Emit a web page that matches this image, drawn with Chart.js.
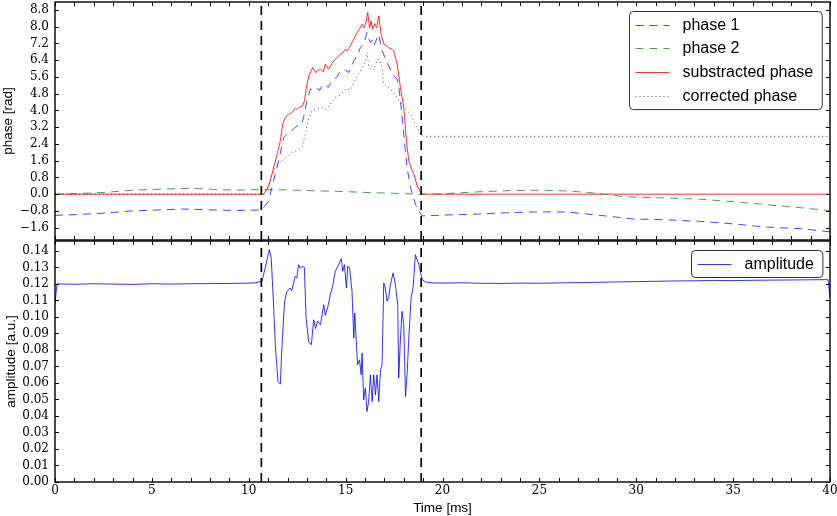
<!DOCTYPE html>
<html><head><meta charset="utf-8">
<script src="https://cdn.jsdelivr.net/npm/chart.js@4.4.0/dist/chart.umd.min.js"></script>
<style>
html,body{margin:0;padding:0;background:#fff;}
#wrap{position:relative;width:837px;height:516px;overflow:hidden;background:#fff;}
canvas{position:absolute;left:0;}
#c1{top:0}
#c2{top:236px}
</style></head><body>
<div id="wrap"><canvas id="c1" width="837" height="243"></canvas><canvas id="c2" width="837" height="280"></canvas></div>
<script>
// ---------- data ----------
const eventTimes = [10.65, 18.9];

const phase1T = [0,1,2.3,4,5.5,6.6,8,9.2,10.65,10.8,11.03,11.28,11.54,11.8,12.06,12.3,12.49,12.7,12.83,13.0,13.18,13.35,13.52,13.65,13.78,13.95,14.1,14.25,14.38,14.55,14.73,14.95,15.16,15.3,15.42,15.6,15.76,15.95,16.1,16.2,16.28,16.37,16.45,16.55,16.71,16.8,16.88,17.05,17.22,17.45,17.66,17.75,17.83,18.0,18.17,18.35,18.6,18.8,18.95,20,21.8,23,25,26.5,28,29.9,31.5,33.3,35,36.8,38.5,40];
const phase1V = [-1.01,-0.98,-0.92,-0.80,-0.75,-0.71,-0.75,-0.78,-0.76,-0.6,-0.32,0.64,1.59,2.7,2.94,3.1,3.26,3.3,3.66,4.46,5.02,5.0,5.09,4.95,5.17,5.25,5.1,5.35,5.49,5.6,5.89,5.95,5.81,6.1,6.37,6.6,7.0,7.2,7.72,7.4,7.24,7.35,7.08,7.3,7.64,7.2,6.85,6.5,6.13,5.7,5.49,5.1,4.46,2.87,1.27,0.32,-0.48,-0.85,-1.04,-1.0,-0.95,-0.9,-0.84,-0.86,-1.0,-1.19,-1.22,-1.3,-1.42,-1.58,-1.65,-1.8];

const phase2T = [0,1.5,2.5,4,5.5,7,8,9.2,10.65,12,13.5,15,16.1,17.5,18.9,20,21.8,23.5,25.2,26.5,27.5,28.5,29.5,31.5,33.3,35,36.8,38.5,40];
const phase2V = [0.0,0.04,0.08,0.19,0.24,0.28,0.24,0.19,0.22,0.2,0.16,0.12,0.08,0.04,0.0,0.02,0.11,0.17,0.19,0.15,0.08,-0.02,-0.13,-0.18,-0.24,-0.36,-0.51,-0.65,-0.79];

const subT = [0,10.77,10.9,11.03,11.2,11.4,11.63,11.75,11.89,12.05,12.23,12.4,12.5,12.6,12.75,12.88,12.96,13.1,13.3,13.44,13.57,13.7,13.85,13.95,14.12,14.3,14.47,14.6,14.73,14.85,14.99,15.1,15.25,15.42,15.59,15.72,15.85,15.95,16.05,16.14,16.24,16.32,16.4,16.5,16.6,16.71,16.83,16.97,17.1,17.22,17.35,17.48,17.66,17.83,18.0,18.14,18.26,18.4,18.52,18.69,18.85,18.95,40];
const subV = [0,0,0.18,0.4,0.96,1.67,2.55,3.34,3.66,3.8,3.9,4.11,4.05,4.15,4.17,4.46,5.02,5.65,6.05,5.81,5.9,5.97,5.85,6.21,5.97,6.25,6.45,6.55,6.69,6.75,6.93,6.85,7.1,7.41,7.72,7.9,8.12,7.95,8.2,8.68,7.96,8.28,7.88,8.15,7.95,8.52,7.64,7.17,7.1,7.0,6.95,6.85,6.21,5.09,4.14,2.55,1.59,1.2,0.96,0.40,0.12,0,0];

const corrT = [0,10.77,11.03,11.2,11.37,11.71,12.0,12.23,12.5,12.75,12.92,13.06,13.26,13.5,13.78,14.0,14.2,14.47,14.73,14.99,15.25,15.5,15.76,16.02,16.1,16.2,16.28,16.37,16.45,16.55,16.62,16.72,16.88,16.97,17.31,17.66,18.0,18.35,18.6,18.86,19.0,40];
const corrV = [0,0,0.4,0.96,1.27,1.59,1.8,1.99,2.1,2.23,2.87,3.5,3.98,4.05,4.14,4.05,4.3,4.62,4.74,5.02,4.98,5.49,5.89,6.29,6.77,6.1,5.97,6.13,5.95,6.2,6.37,6.45,6.05,5.26,5.02,4.62,4.14,3.82,3.34,2.87,2.76,2.76];

const ampT = [0,0.1,1,2,3,4,5,6,7,8,9,10,10.34,10.68,10.85,11.06,11.16,11.28,11.37,11.51,11.63,11.71,11.85,11.97,12.14,12.22,12.4,12.48,12.57,12.65,12.75,12.87,12.96,13.09,13.23,13.35,13.45,13.55,13.7,13.87,13.95,14.08,14.21,14.33,14.47,14.64,14.78,14.85,14.94,15.04,15.11,15.2,15.33,15.42,15.47,15.55,15.62,15.72,15.8,15.85,15.93,16.02,16.1,16.19,16.28,16.37,16.45,16.54,16.62,16.71,16.8,16.88,16.97,17.05,17.14,17.22,17.31,17.45,17.57,17.69,17.74,17.83,17.91,18.0,18.09,18.18,18.26,18.38,18.48,18.6,18.78,18.95,19.12,19.5,20,21,22,23,24,25,26,27,28,29,30,31,32,33,34,35,36,37,38,39,39.9,40];
const ampV = [0.108,0.1200,0.1198,0.1201,0.1199,0.1197,0.1201,0.1199,0.1201,0.1202,0.1203,0.1205,0.1207,0.1216,0.1297,0.1408,0.1357,0.1074,0.0831,0.0609,0.0593,0.0811,0.1095,0.1155,0.1175,0.1160,0.1246,0.1235,0.1317,0.1295,0.1307,0.1300,0.0993,0.0852,0.0831,0.0983,0.0930,0.0975,0.0953,0.1074,0.1010,0.1060,0.1135,0.1186,0.1277,0.1317,0.1353,0.1277,0.1317,0.1175,0.1307,0.1300,0.1155,0.0872,0.1024,0.0850,0.0710,0.0740,0.0649,0.0781,0.0498,0.0569,0.0427,0.0488,0.0649,0.0488,0.0649,0.0528,0.0649,0.0488,0.0680,0.0710,0.1206,0.1175,0.1095,0.1115,0.1195,0.1266,0.1195,0.1074,0.0629,0.0872,0.1034,0.0953,0.0518,0.0670,0.0872,0.1115,0.1175,0.1377,0.1317,0.1226,0.1212,0.1206,0.1205,0.1207,0.1204,0.1203,0.1205,0.1204,0.1206,0.1208,0.1210,0.1212,0.1214,0.1216,0.1218,0.1219,0.1221,0.1220,0.1222,0.1223,0.1224,0.1225,0.1226,0.112];

// ticks
const xLabelTicks = [0,5,10,15,20,25,30,35,40];
const xMinorTicks = [0,1,2,3,4,5,6,7,8,9,10,11,12,13,14,15,16,17,18,19,20,21,22,23,24,25,26,27,28,29,30,31,32,33,34,35,36,37,38,39,40];
const phaseTicks = [-1.6,-0.8,0.0,0.8,1.6,2.4,3.2,4.0,4.8,5.6,6.4,7.2,8.0,8.8];
const ampTicks = [0.00,0.01,0.02,0.03,0.04,0.05,0.06,0.07,0.08,0.09,0.10,0.11,0.12,0.13,0.14];
const phaseRange = [-2.19, 9.18];
const ampRange = [0, 0.146];

// ---------- helpers ----------
const pts = (T, V) => T.map((t, i) => ({x: t, y: V[i]}));
const vline = (t, r) => [{x: t, y: r[0]}, {x: t, y: r[1]}];
const minus = s => s.replace('-', '\u2212');
const noPad = s => { s.paddingTop = 0; s.paddingBottom = 0; s.paddingLeft = 0; s.paddingRight = 0; };

const framePlugin = {
  id: 'frame',
  afterDatasetsDraw(chart, args, opts) {
    const {ctx, chartArea: a, scales} = chart;
    const x = scales.x, y = scales.y;
    ctx.save();
    ctx.strokeStyle = '#000'; ctx.lineWidth = 1; ctx.setLineDash([]);
    ctx.beginPath();
    opts.xTicks.forEach(t => {
      const p = Math.round(x.getPixelForValue(t)) + 0.5;
      ctx.moveTo(p, a.bottom); ctx.lineTo(p, a.bottom - 4);
      ctx.moveTo(p, a.top); ctx.lineTo(p, a.top + 4);
    });
    opts.yTicks.forEach(v => {
      const p = Math.round(y.getPixelForValue(v)) + 0.5;
      ctx.moveTo(a.left, p); ctx.lineTo(a.left + 4, p);
      ctx.moveTo(a.right, p); ctx.lineTo(a.right - 4, p);
    });
    ctx.stroke();
    ctx.lineWidth = 1.4;
    ctx.strokeRect(a.left, a.top, a.width, a.height);
    ctx.restore();
  }
};

const legendPlugin = {
  id: 'boxLegend',
  afterDraw(chart) {
    const {ctx, chartArea: a} = chart;
    const items = chart.data.datasets.filter(d => !d.hideInLegend);
    ctx.save();
    ctx.font = '16px "Liberation Sans", Arial, sans-serif';
    const tw = Math.max(...items.map(d => ctx.measureText(d.label).width));
    const w = 6 + 34 + 13 + tw + 9;
    const rowH = 23.7;
    const h = 26 + rowH * (items.length - 1) + 1;
    const left = Math.round(a.right - 8 - w) + 0.5, top = Math.round(a.top + 9) + 0.5;
    const r = 4;
    ctx.beginPath();
    ctx.moveTo(left + r, top);
    ctx.lineTo(left + w - r, top); ctx.arcTo(left + w, top, left + w, top + r, r);
    ctx.lineTo(left + w, top + h - r); ctx.arcTo(left + w, top + h, left + w - r, top + h, r);
    ctx.lineTo(left + r, top + h); ctx.arcTo(left, top + h, left, top + h - r, r);
    ctx.lineTo(left, top + r); ctx.arcTo(left, top, left + r, top, r);
    ctx.closePath();
    ctx.fillStyle = '#fff'; ctx.fill();
    ctx.strokeStyle = '#333'; ctx.lineWidth = 1; ctx.setLineDash([]); ctx.stroke();
    items.forEach((d, i) => {
      const cy = Math.round(top + 13 + i * rowH);
      ctx.strokeStyle = d.legendColor; ctx.lineWidth = 1;
      ctx.setLineDash(d.legendDash);
      ctx.beginPath(); ctx.moveTo(left + 6, cy + 0.5); ctx.lineTo(left + 40, cy + 0.5); ctx.stroke();
      ctx.setLineDash([]);
      ctx.fillStyle = '#000'; ctx.textBaseline = 'middle'; ctx.textAlign = 'left';
      ctx.fillText(d.label, left + 53, cy + 1);
    });
    ctx.restore();
  }
};

const tickFont = {family: '"DejaVu Serif", serif', size: 12};
const titleFont = {family: '"Liberation Sans", Arial, sans-serif', size: 13.5};
const vlineStyle = {borderColor: '#000', borderWidth: 1.7, borderDash: [9, 6], hideInLegend: true, label: ''};
const series = (label, data, color, dash) => ({label, data, borderColor: color, borderWidth: 1, borderDash: dash, legendColor: color, legendDash: dash});

// ---------- top chart ----------
new Chart(document.getElementById('c1'), {
  type: 'line',
  data: {datasets: [
    Object.assign({data: vline(eventTimes[0], phaseRange)}, vlineStyle),
    Object.assign({data: vline(eventTimes[1], phaseRange)}, vlineStyle),
    series('phase 1', pts(phase1T, phase1V), 'rgba(0,0,255,0.72)', [8, 6]),
    series('phase 2', pts(phase2T, phase2V), 'rgba(0,128,0,0.72)', [8, 6]),
    series('substracted phase', pts(subT, subV), 'rgba(255,0,0,0.8)', []),
    series('corrected phase', pts(corrT, corrV), 'rgba(0,0,0,0.7)', [1, 3])
  ]},
  options: {
    responsive: false, animation: false, maintainAspectRatio: false,
    layout: {padding: {left: 0, right: 7, top: 2, bottom: 3}},
    elements: {point: {radius: 0}, line: {tension: 0}},
    plugins: {legend: {display: false}, tooltip: {enabled: false},
      frame: {xTicks: xMinorTicks, yTicks: phaseTicks}},
    scales: {
      x: {type: 'linear', min: 0, max: 40, display: false},
      y: {type: 'linear', min: phaseRange[0], max: phaseRange[1],
        afterBuildTicks: s => { s.ticks = phaseTicks.map(v => ({value: v})); },
        afterFit: s => { s.width = 55; noPad(s); },
        grid: {display: false, drawTicks: false}, border: {display: false},
        ticks: {padding: 6, color: '#000', font: tickFont, autoSkip: false, callback: v => minus(v.toFixed(1))},
        title: {display: true, text: 'phase [rad]', color: '#000', font: titleFont, padding: {top: 0, bottom: 0}}}
    }
  },
  plugins: [framePlugin, legendPlugin]
});

// ---------- bottom chart ----------
new Chart(document.getElementById('c2'), {
  type: 'line',
  data: {datasets: [
    Object.assign({data: vline(eventTimes[0], ampRange)}, vlineStyle),
    Object.assign({data: vline(eventTimes[1], ampRange)}, vlineStyle),
    series('amplitude', pts(ampT, ampV), 'rgba(0,0,255,0.8)', [])
  ]},
  options: {
    responsive: false, animation: false, maintainAspectRatio: false,
    layout: {padding: {left: 0, right: 7, top: 5, bottom: 0}},
    elements: {point: {radius: 0}, line: {tension: 0}},
    plugins: {legend: {display: false}, tooltip: {enabled: false},
      frame: {xTicks: xMinorTicks, yTicks: ampTicks}},
    scales: {
      x: {type: 'linear', min: 0, max: 40,
        afterBuildTicks: s => { s.ticks = xLabelTicks.map(v => ({value: v})); },
        afterFit: s => { s.height = 34; noPad(s); },
        grid: {display: false, drawTicks: false}, border: {display: false},
        ticks: {padding: 2, color: '#000', font: tickFont, autoSkip: false, maxRotation: 0, callback: v => String(v)},
        title: {display: true, text: 'Time [ms]', color: '#000', font: titleFont, padding: {top: 0, bottom: 0}}},
      y: {type: 'linear', min: ampRange[0], max: ampRange[1],
        afterBuildTicks: s => { s.ticks = ampTicks.map(v => ({value: v})); },
        afterFit: s => { s.width = 55; noPad(s); },
        grid: {display: false, drawTicks: false}, border: {display: false},
        ticks: {padding: 6, color: '#000', font: tickFont, autoSkip: false, callback: v => v.toFixed(2)},
        title: {display: true, text: 'amplitude [a.u.]', color: '#000', font: titleFont, padding: {top: 3, bottom: 0}}}
    }
  },
  plugins: [framePlugin, legendPlugin]
});
</script>
</body></html>
